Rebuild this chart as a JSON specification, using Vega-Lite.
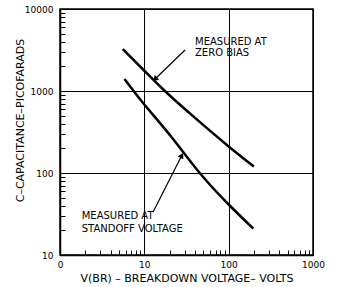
{
  "$schema": "https://vega.github.io/schema/vega-lite/v6.json",
  "width": 253,
  "height": 246,
  "autosize": {"type": "none"},
  "padding": {"left": 60, "top": 9, "right": 25, "bottom": 32},
  "background": "white",
  "config": {
    "view": {"stroke": "black", "strokeWidth": 1.5},
    "axis": {
      "domainColor": "black", "domainWidth": 1.5,
      "gridColor": "black", "gridWidth": 1, "gridOpacity": 1,
      "tickColor": "black", "tickWidth": 1, "tickSize": -5,
      "labelColor": "black", "titleColor": "black",
      "labelFont": "DejaVu Sans", "titleFont": "DejaVu Sans",
      "labelFontSize": 9, "titleFontSize": 11, "titleFontWeight": "normal",
      "labelFlush": false, "labelOverlap": false
    },
    "text": {"font": "DejaVu Sans", "fontSize": 10, "color": "black"}
  },
  "layer": [
    {
      "data": {"values": [
        {"series": "zero", "v": 5.55, "c": 3250},
        {"series": "zero", "v": 10, "c": 1766},
        {"series": "zero", "v": 17.5, "c": 1000},
        {"series": "zero", "v": 42.2, "c": 447},
        {"series": "zero", "v": 100, "c": 211},
        {"series": "zero", "v": 199, "c": 120},
        {"series": "standoff", "v": 5.82, "c": 1400},
        {"series": "standoff", "v": 10, "c": 684},
        {"series": "standoff", "v": 21.2, "c": 271},
        {"series": "standoff", "v": 45.4, "c": 100},
        {"series": "standoff", "v": 100.7, "c": 41},
        {"series": "standoff", "v": 196, "c": 21}
      ]},
      "mark": {"type": "line", "color": "black", "strokeWidth": 2.5, "interpolate": "natural"},
      "encoding": {
        "detail": {"field": "series"},
        "x": {
          "field": "v", "type": "quantitative",
          "scale": {"type": "log", "domain": [1, 1000]},
          "axis": {
            "title": "V(BR) –  BREAKDOWN VOLTAGE– VOLTS",
            "values": [1,2,3,4,5,6,7,8,9,10,20,30,40,50,60,70,80,90,100,200,300,400,500,600,700,800,900,1000],
            "labelExpr": "datum.value == 1 ? '0' : (indexof([10,100,1000], datum.value) >= 0 ? format(datum.value, 'd') : '')",
            "gridOpacity": {"condition": {"test": "indexof([1,10,100,1000], datum.value) >= 0", "value": 1}, "value": 0},
            "labelPadding": 10,
            "titlePadding": 3
          }
        },
        "y": {
          "field": "c", "type": "quantitative",
          "scale": {"type": "log", "domain": [10, 10000]},
          "axis": {
            "title": "C–CAPACITANCE–PICOFARADS",
            "values": [10,20,30,40,50,60,70,80,90,100,200,300,400,500,600,700,800,900,1000,2000,3000,4000,5000,6000,7000,8000,9000,10000],
            "labelExpr": "indexof([10,100,1000,10000], datum.value) >= 0 ? format(datum.value, 'd') : ''",
            "gridOpacity": {"condition": {"test": "indexof([10,100,1000,10000], datum.value) >= 0", "value": 1}, "value": 0},
            "labelPadding": 12,
            "titleX": -40,
            "titleY": 111,
            "titleAlign": "center",
            "titleBaseline": "middle"
          }
        }
      }
    },
    {
      "data": {"values": [
        {"v": 30.4, "c": 3162, "v2": 13.6, "c2": 1420},
        {"v": 12.7, "c": 33.4, "v2": 27.5, "c2": 160}
      ]},
      "mark": {"type": "rule", "color": "black", "strokeWidth": 1.2},
      "encoding": {
        "x": {"field": "v", "type": "quantitative"},
        "y": {"field": "c", "type": "quantitative"},
        "x2": {"field": "v2"},
        "y2": {"field": "c2"}
      }
    },
    {
      "data": {"values": [{"v": 13.6, "c": 1420}]},
      "mark": {"type": "point", "shape": "triangle", "filled": true, "color": "black", "opacity": 1, "size": 40, "angle": 228},
      "encoding": {
        "x": {"field": "v", "type": "quantitative"},
        "y": {"field": "c", "type": "quantitative"}
      }
    },
    {
      "data": {"values": [{"v": 27.5, "c": 160}]},
      "mark": {"type": "point", "shape": "triangle", "filled": true, "color": "black", "opacity": 1, "size": 40, "angle": 27},
      "encoding": {
        "x": {"field": "v", "type": "quantitative"},
        "y": {"field": "c", "type": "quantitative"}
      }
    },
    {
      "data": {"values": [
        {"label": "MEASURED AT", "v": 39.9, "c": 3990},
        {"label": "ZERO BIAS", "v": 39.9, "c": 2884},
        {"label": "MEASURED AT", "v": 1.81, "c": 29.9},
        {"label": "STANDOFF VOLTAGE", "v": 1.81, "c": 20.6}
      ]},
      "mark": {"type": "text", "align": "left", "baseline": "middle"},
      "encoding": {
        "x": {"field": "v", "type": "quantitative"},
        "y": {"field": "c", "type": "quantitative"},
        "text": {"field": "label"}
      }
    }
  ]
}
